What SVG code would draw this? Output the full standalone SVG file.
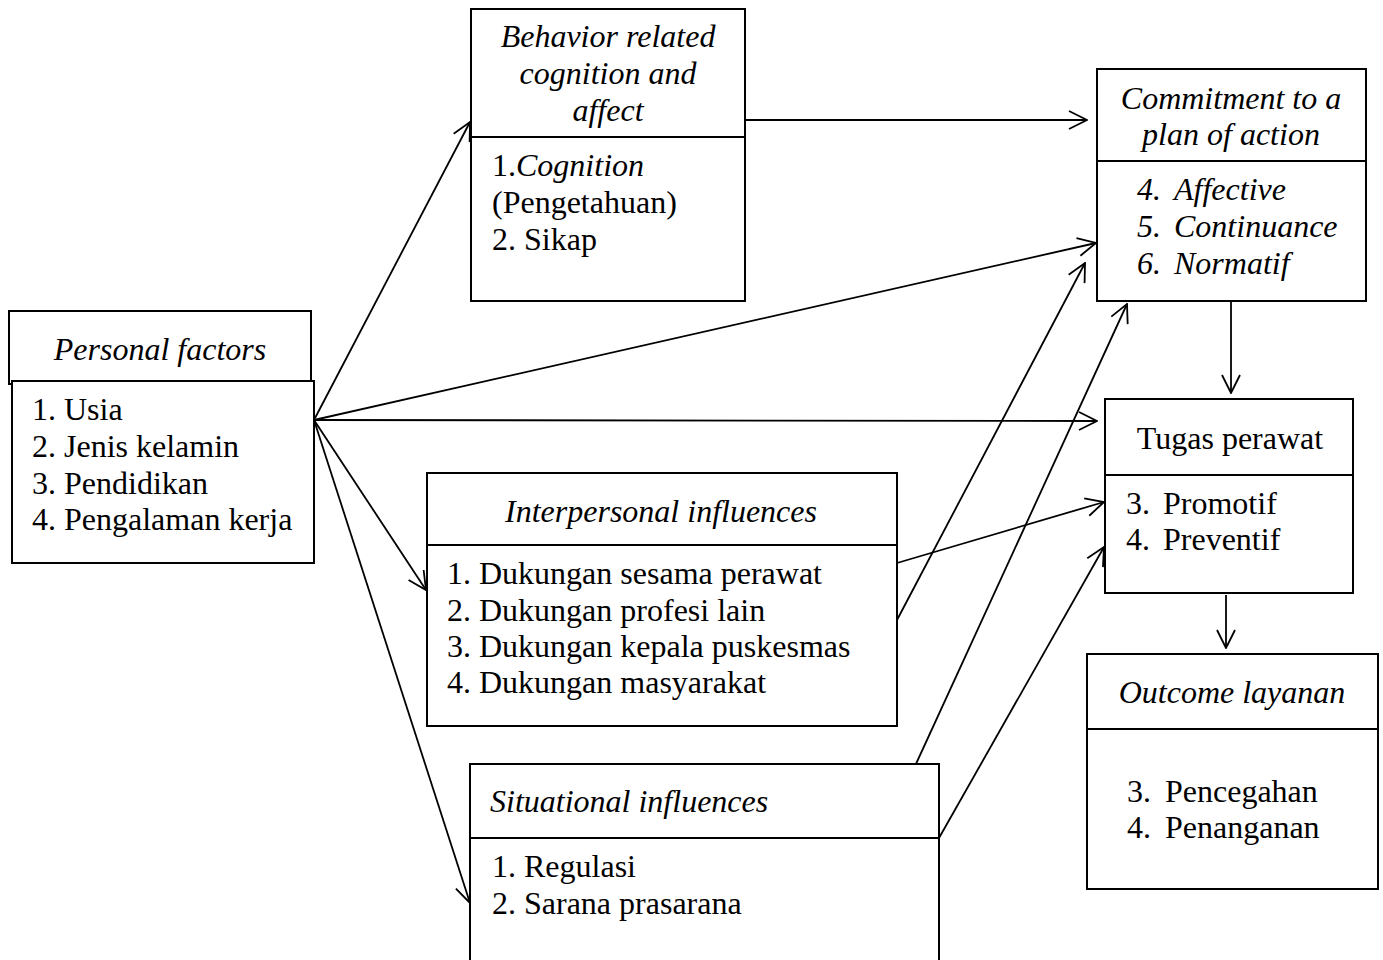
<svg xmlns="http://www.w3.org/2000/svg" width="1383" height="960" viewBox="0 0 1383 960">
<style>
.box{fill:#fff;stroke:#000;stroke-width:2}
.ln{stroke:#000;stroke-width:2;fill:none}
.t{font-family:"Liberation Serif","Times New Roman",serif;font-size:32px;fill:#000}
.i{font-style:italic}
.c{text-anchor:middle}
.con{stroke:#000;stroke-width:1.8;fill:none;marker-end:url(#ah)}
</style>
<defs>
<marker id="ah" viewBox="0 0 20 20" refX="19" refY="10" markerWidth="20" markerHeight="20" markerUnits="userSpaceOnUse" orient="auto">
<path d="M1,1 L19,10 L1,19" fill="none" stroke="#000" stroke-width="1.8"/>
</marker>
</defs>
<rect width="1383" height="960" fill="#fff"/>

<g id="connectors">
<line class="con" x1="314" y1="420" x2="470" y2="122"/>
<line class="con" x1="745" y1="120" x2="1087" y2="120"/>
<line class="con" x1="314" y1="420" x2="1096" y2="243"/>
<line class="con" x1="314" y1="420" x2="1097" y2="421"/>
<line class="con" x1="314" y1="420" x2="426" y2="590"/>
<line class="con" x1="314" y1="420" x2="470" y2="903"/>
<line class="con" x1="897" y1="563" x2="1104" y2="502"/>
<line class="con" x1="897" y1="620" x2="1085" y2="263"/>
<line class="con" x1="916" y1="764" x2="1127" y2="304"/>
<line class="con" x1="939" y1="838" x2="1104" y2="547"/>
<line class="con" x1="1231" y1="301" x2="1231" y2="393"/>
<line class="con" x1="1226" y1="595" x2="1226" y2="648"/>
</g>

<g id="personal">
<rect class="box" x="9" y="311" width="302" height="73"/>
<rect class="box" x="12" y="381" width="302" height="182"/>
<text class="t i c" x="160" y="360">Personal factors</text>
<text class="t" x="32" y="420">1. Usia</text>
<text class="t" x="32" y="457">2. Jenis kelamin</text>
<text class="t" x="32" y="494">3. Pendidikan</text>
<text class="t" x="32" y="530">4. Pengalaman kerja</text>
</g>

<g id="behavior">
<rect class="box" x="471" y="9" width="274" height="292"/>
<line class="ln" x1="471" y1="137" x2="745" y2="137"/>
<text class="t i c" x="608" y="47">Behavior related</text>
<text class="t i c" x="608" y="84">cognition and</text>
<text class="t i c" x="608" y="121">affect</text>
<text class="t" x="492" y="176">1.<tspan class="i">Cognition</tspan></text>
<text class="t" x="492" y="213">(Pengetahuan)</text>
<text class="t" x="492" y="250">2. Sikap</text>
</g>

<g id="commitment">
<rect class="box" x="1097" y="69" width="269" height="232"/>
<line class="ln" x1="1097" y1="161" x2="1366" y2="161"/>
<text class="t i c" x="1231" y="109">Commitment to a</text>
<text class="t i c" x="1231" y="145">plan of action</text>
<text class="t i" x="1137" y="200">4.<tspan x="1174">Affective</tspan></text>
<text class="t i" x="1137" y="237">5.<tspan x="1174">Continuance</tspan></text>
<text class="t i" x="1137" y="274">6.<tspan x="1174">Normatif</tspan></text>
</g>

<g id="tugas">
<rect class="box" x="1105" y="399" width="248" height="194"/>
<line class="ln" x1="1105" y1="475" x2="1353" y2="475"/>
<text class="t c" x="1230" y="449">Tugas perawat</text>
<text class="t" x="1126" y="514">3.<tspan x="1163">Promotif</tspan></text>
<text class="t" x="1126" y="550">4.<tspan x="1163">Preventif</tspan></text>
</g>

<g id="outcome">
<rect class="box" x="1087" y="654" width="291" height="235"/>
<line class="ln" x1="1087" y1="729" x2="1378" y2="729"/>
<text class="t i c" x="1232" y="703">Outcome layanan</text>
<text class="t" x="1127" y="802">3.<tspan x="1165">Pencegahan</tspan></text>
<text class="t" x="1127" y="838">4.<tspan x="1165">Penanganan</tspan></text>
</g>

<g id="interpersonal">
<rect class="box" x="427" y="473" width="470" height="253"/>
<line class="ln" x1="427" y1="545" x2="897" y2="545"/>
<text class="t i c" x="661" y="522">Interpersonal influences</text>
<text class="t" x="447" y="584">1. Dukungan sesama perawat</text>
<text class="t" x="447" y="621">2. Dukungan profesi lain</text>
<text class="t" x="447" y="657">3. Dukungan kepala puskesmas</text>
<text class="t" x="447" y="693">4. Dukungan masyarakat</text>
</g>

<g id="situational">
<rect class="box" x="470" y="764" width="469" height="205"/>
<line class="ln" x1="470" y1="838" x2="939" y2="838"/>
<text class="t i" x="490" y="812">Situational influences</text>
<text class="t" x="492" y="877">1. Regulasi</text>
<text class="t" x="492" y="914">2. Sarana prasarana</text>
</g>
</svg>
